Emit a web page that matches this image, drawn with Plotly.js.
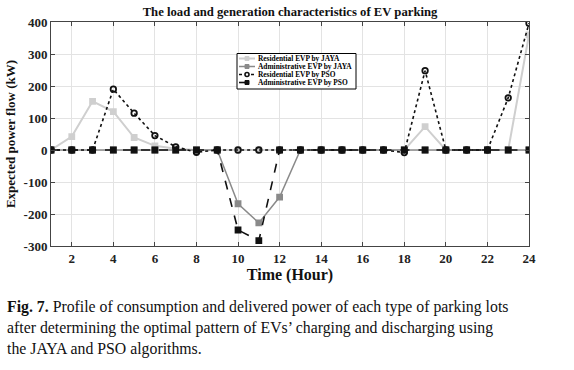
<!DOCTYPE html>
<html>
<head>
<meta charset="utf-8">
<script src="https://cdn.plot.ly/plotly-3.0.1.min.js"></script>
<style>html,body{margin:0;padding:0;background:#fff;}#chart{width:574px;height:370px;}</style>
</head>
<body>
<div id="chart"></div>
<script>
// ---- data ----
const hours = [1,2,3,4,5,6,7,8,9,10,11,12,13,14,15,16,17,18,19,20,21,22,23,24];
const residentialJAYA = [0,42,152,120,39,13,4,0,0,0,0,0,0,0,0,0,0,0,73,0,0,0,0,360];
const administrativeJAYA = [0,0,0,0,0,0,0,0,0,-168,-228,-147,0,0,0,0,0,0,0,0,0,0,0,0];
const residentialPSO = [0,0,0,190,115,45,10,-7,0,0,0,0,0,0,0,0,0,-8,248,0,0,0,163,396];
const administrativePSO = [0,0,0,0,0,0,0,0,0,-250,-283,0,0,0,0,0,0,0,0,0,0,0,0,0];
const seriesNames = ['Residential EVP by JAYA','Administrative EVP by JAYA','Residential EVP by PSO','Administrative EVP by PSO'];
const xTicks = [2,4,6,8,10,12,14,16,18,20,22,24];
const yTicks = [-300,-200,-100,0,100,200,300,400];
const chartTitle = 'The load and generation characteristics of EV parking';
const xTitle = 'Time (Hour)';
const yTitle = 'Expected power flow (kW)';
const captionLines = [
  '<b>Fig. 7.</b> Profile of consumption and delivered power of each type of parking lots',
  'after determining the optimal pattern of EVs’ charging and discharging using',
  'the JAYA and PSO algorithms.'
];

// ---- styles ----
const W = 574, H = 370;
const M = {l:51, r:45, t:22, b:124};
const serif = 'Liberation Serif, Times New Roman, serif';
const styles = [
  {color:'#cfcfcf', width:2, dash:'solid', symbol:'square', size:5},
  {color:'#8a8a8a', width:1.5, dash:'solid', symbol:'square', size:5},
  {color:'#111111', width:1.6, dash:'dot', symbol:'circle-open', size:5.5},
  {color:'#111111', width:1.6, dash:'dash', symbol:'square', size:5}
];
const seriesData = [residentialJAYA, administrativeJAYA, residentialPSO, administrativePSO];

const traces = seriesData.map((ys,i)=>({
  x: hours, y: ys, type:'scatter', mode:'lines+markers', name: seriesNames[i],
  line:{color:styles[i].color, width:styles[i].width, dash:styles[i].dash},
  marker:{symbol:styles[i].symbol, size:styles[i].size, color:styles[i].color, line:{color:styles[i].color, width:1.8}},
  showlegend:false
}));

// pixel -> paper helpers for the hand-drawn legend/caption
const pw = W - M.l - M.r, ph = H - M.t - M.b;
const px = v => (v - M.l)/pw;
const py = v => (H - M.b - v)/ph;

const shapes = [];
const annotations = [];
// legend box
const lb = {x0:237, x1:356, y0:53.5, y1:89};
shapes.push({type:'rect', xref:'paper', yref:'paper', x0:px(lb.x0), x1:px(lb.x1), y0:py(lb.y1), y1:py(lb.y0),
  line:{color:'#000', width:1}, fillcolor:'#fff', layer:'above'});
const rowY = [58.5, 66.5, 74.5, 82.5];
seriesNames.forEach((n,i)=>{
  const y = rowY[i];
  shapes.push({type:'line', xref:'paper', yref:'paper', x0:px(239), x1:px(255), y0:py(y), y1:py(y),
    line:{color:styles[i].color, width:styles[i].width, dash:styles[i].dash}, layer:'above'});
  const s = 2;
  if (styles[i].symbol.startsWith('circle')) {
    shapes.push({type:'circle', xref:'paper', yref:'paper', x0:px(247-s), x1:px(247+s), y0:py(y+s), y1:py(y-s),
      line:{color:styles[i].color, width:1.6}, fillcolor:'#fff', layer:'above'});
  } else {
    shapes.push({type:'rect', xref:'paper', yref:'paper', x0:px(247-s), x1:px(247+s), y0:py(y+s), y1:py(y-s),
      line:{color:styles[i].color, width:1}, fillcolor:styles[i].color, layer:'above'});
  }
  annotations.push({xref:'paper', yref:'paper', x:px(256.5), y:py(y), xanchor:'left', yanchor:'middle',
    text:'<b>'+n+'</b>', showarrow:false, borderpad:0, font:{family:serif, size:7.4, color:'#000'}});
});
// caption
const capY = [306.5, 327.5, 348.5];
captionLines.forEach((t,i)=>{
  annotations.push({xref:'paper', yref:'paper', x:px(5), y:py(capY[i]), xanchor:'left', yanchor:'middle',
    text:t, showarrow:false, font:{family:serif, size:15.8, color:'#111'}});
});

const axisCommon = {
  showline:true, linecolor:'#444', linewidth:1, mirror:'ticks', ticks:'inside', ticklen:4, tickcolor:'#444',
  showgrid:true, gridcolor:'#e3e3e3', gridwidth:1, zeroline:false,
  tickfont:{family:serif, size:13, color:'#222', weight:'bold'}
};

const layout = {
  width:W, height:H, margin:M, paper_bgcolor:'#fff', plot_bgcolor:'#fff',
  title:{text:'<b>'+chartTitle+'</b>', font:{family:serif, size:12.7, color:'#111'}, x:0.5, xref:'paper', xanchor:'center', y:1-12/H, yanchor:'middle'},
  xaxis:Object.assign({}, axisCommon, {range:[1,24], tickvals:xTicks, ticktext:xTicks.map(String),
    title:{text:'<b>'+xTitle+'</b>', font:{family:serif, size:16, color:'#111'}, standoff:3}}),
  yaxis:Object.assign({}, axisCommon, {range:[-300,400], tickvals:yTicks, ticktext:yTicks.map(String),
    title:{text:'<b>'+yTitle+'</b>', font:{family:serif, size:13, color:'#111'}, standoff:5}}),
  shapes:shapes, annotations:annotations, showlegend:false
};

Plotly.newPlot('chart', traces, layout, {displayModeBar:false, staticPlot:true});
</script>
</body>
</html>
